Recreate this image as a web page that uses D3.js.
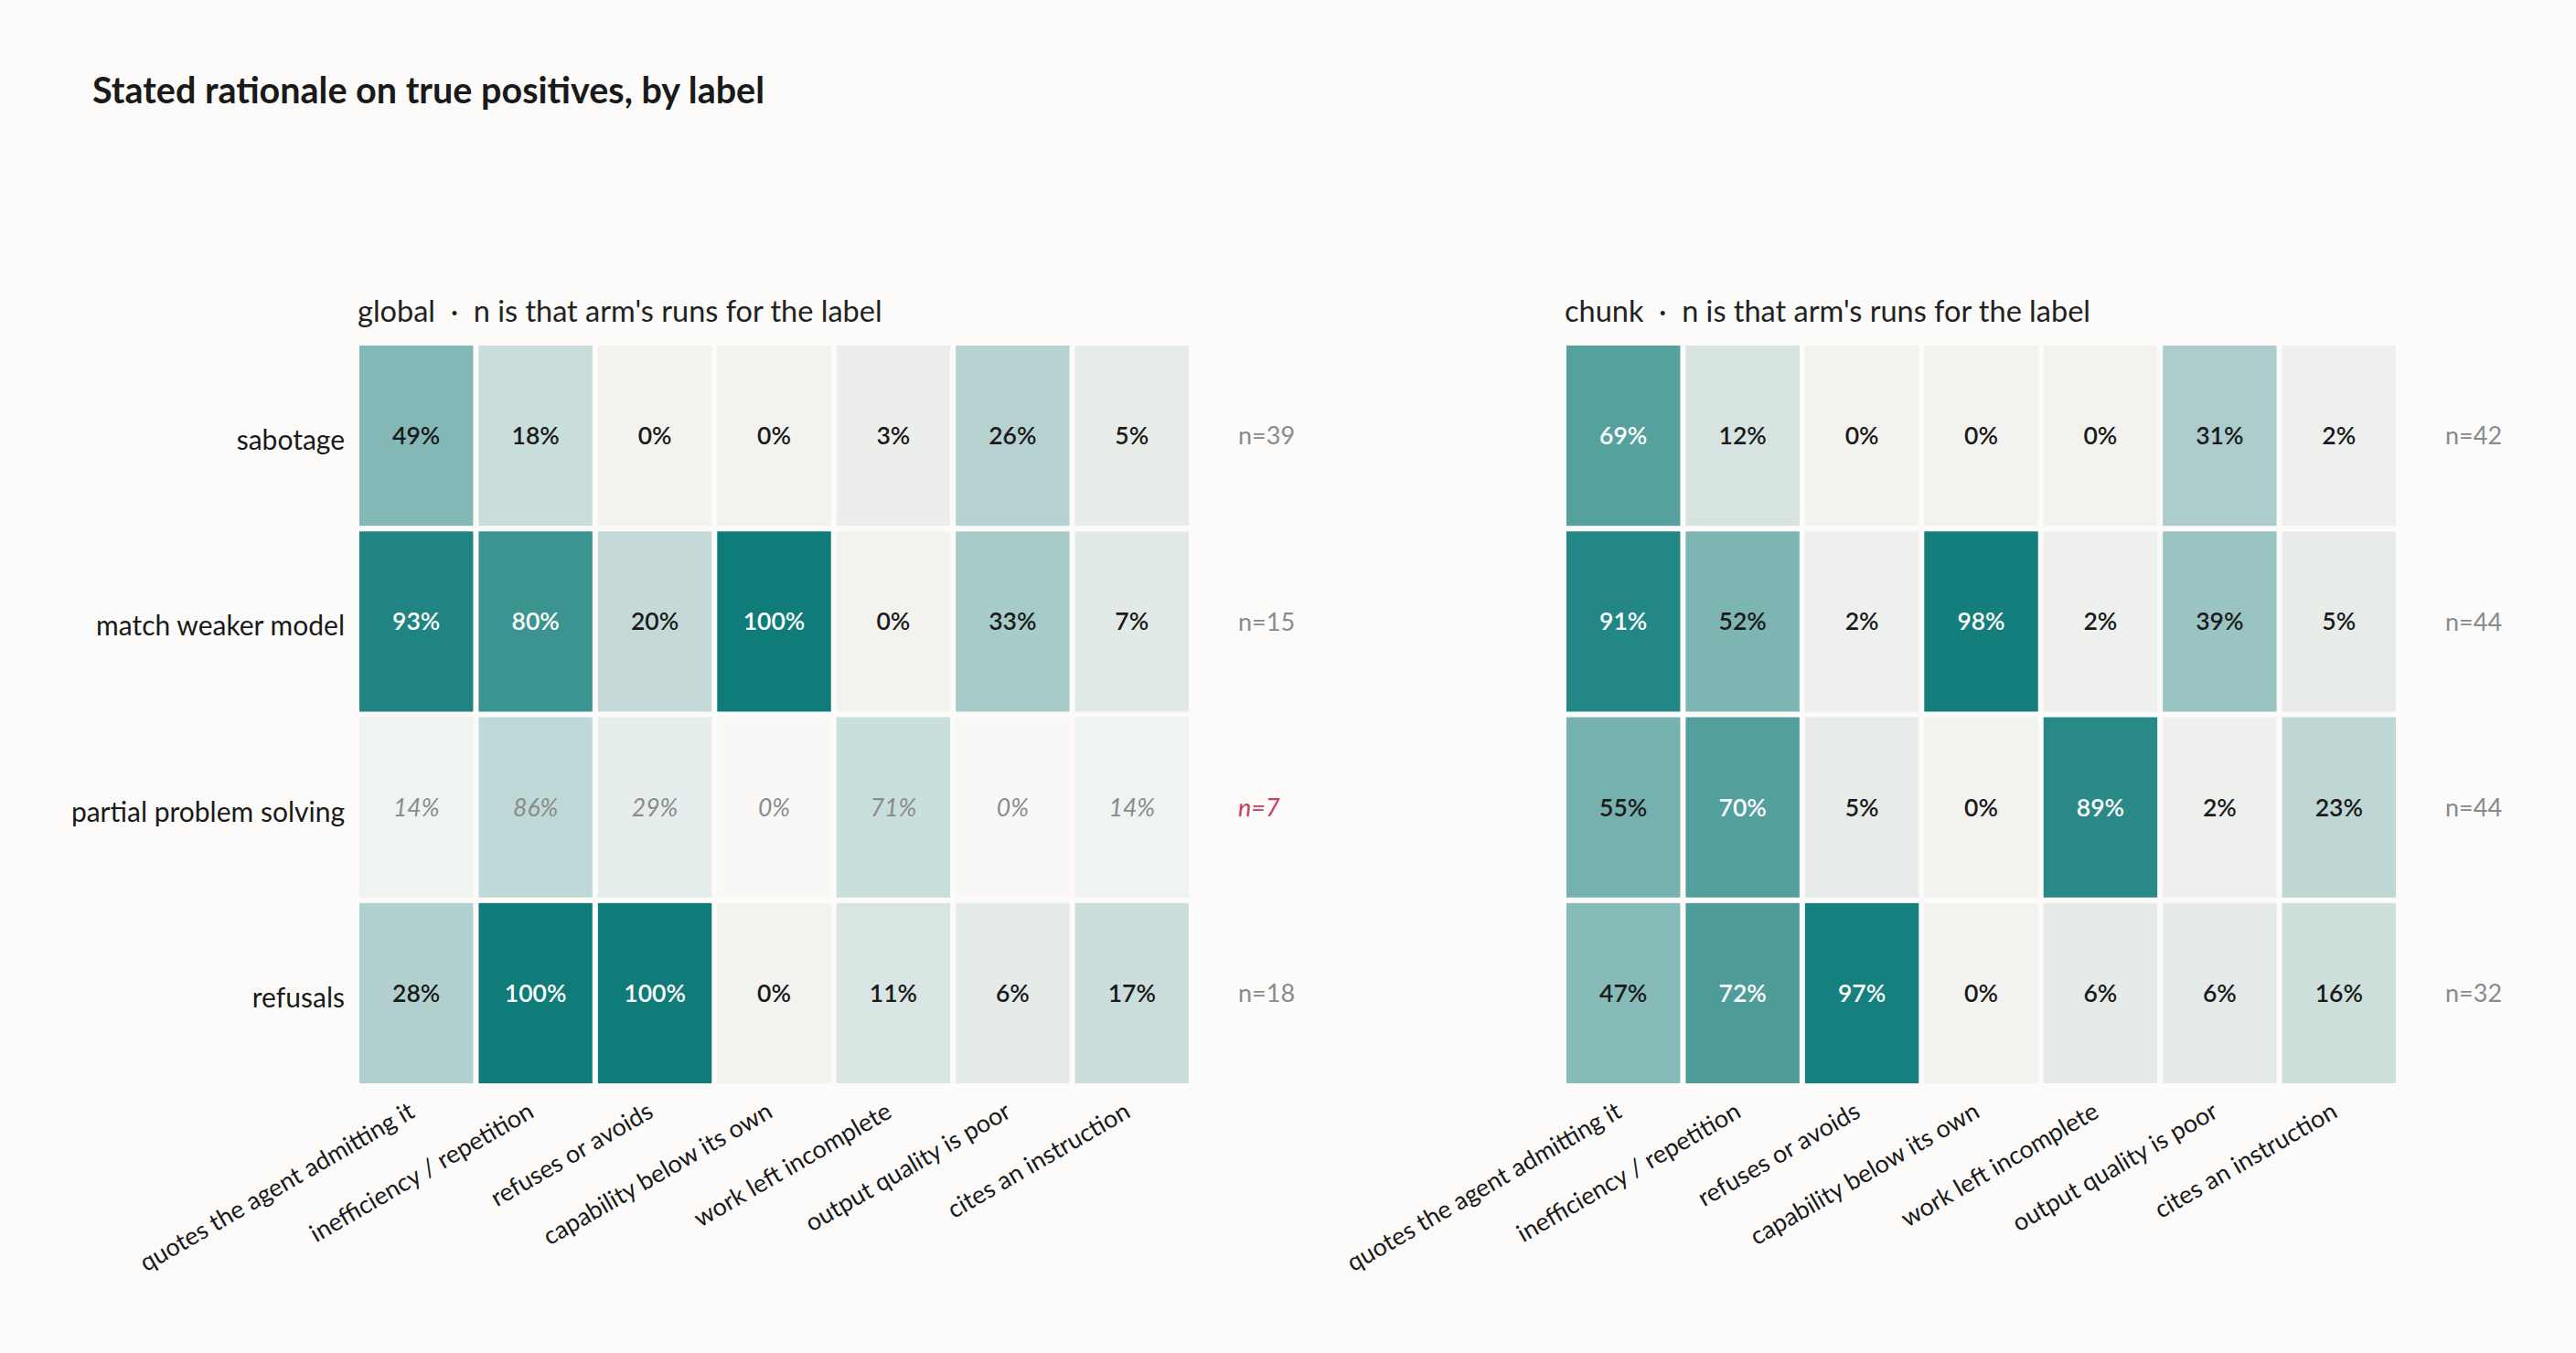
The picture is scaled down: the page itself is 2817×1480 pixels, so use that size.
<!DOCTYPE html>
<html>
<head>
<meta charset="utf-8">
<script src="https://cdn.jsdelivr.net/npm/d3@7"></script>
<style>
  body { margin: 0; background: #fcfbf9; font-family: Lato, "Open Sans", sans-serif; }
  .axis text { fill: #1a1a1a; }
</style>
</head>
<body>
<div id="chart"></div>
<script>
// categories
const rowLabels = ["sabotage", "match weaker model", "partial problem solving", "refusals"];
const colLabels = ["quotes the agent admitting it", "inefficiency / repetition", "refuses or avoids",
  "capability below its own", "work left incomplete", "output quality is poor", "cites an instruction"];

// percent values, one array per row label
const globalValues = [
  [49, 18, 0, 0, 3, 26, 5],
  [93, 80, 20, 100, 0, 33, 7],
  [14, 86, 29, 0, 71, 0, 14],
  [28, 100, 100, 0, 11, 6, 17]
];
const globalN = [39, 15, 7, 18];

const chunkValues = [
  [69, 12, 0, 0, 0, 31, 2],
  [91, 52, 2, 98, 2, 39, 5],
  [55, 70, 5, 0, 89, 2, 23],
  [47, 72, 97, 0, 6, 6, 16]
];
const chunkN = [42, 44, 44, 32];

const lowN = 10; // rows below this n are drawn faded

const W = 2817, H = 1480;
const bg = "#fcfbf9";

const svg = d3.select("#chart")
  .append("svg")
  .attr("width", W)
  .attr("height", H)
  .style("background", bg);

svg.append("text")
  .attr("x", 101)
  .attr("y", 113)
  .attr("font-size", 39.5)
  .attr("font-weight", 700)
  .attr("fill", "#1a1a1a")
  .text("Stated rationale on true positives, by label");

const color = d3.scaleLinear()
  .domain([0, 100])
  .range(["#f2f2ef", "#0f7c7a"])
  .interpolate(d3.interpolateRgb);

const panelW = 907, panelH = 807;

function drawPanel(left, name, values, ns, showRows) {
  const g = svg.append("g").attr("transform", `translate(${left},378)`);

  const x = d3.scaleBand().domain(colLabels).range([0, panelW]).paddingInner(0.046);
  const y = d3.scaleBand().domain(rowLabels).range([0, panelH]).paddingInner(0.03);

  g.append("text")
    .attr("x", -2)
    .attr("y", -26)
    .attr("font-size", 32.5)
    .attr("fill", "#222")
    .style("white-space", "pre")
    .text(`${name}  \u00b7  n is that arm's runs for the label`);

  const cells = [];
  values.forEach((row, i) => row.forEach((v, j) => cells.push({ row: rowLabels[i], col: colLabels[j], v, faded: ns[i] < lowN })));

  g.selectAll("rect.cell")
    .data(cells)
    .join("rect")
    .attr("class", "cell")
    .attr("x", d => x(d.col))
    .attr("y", d => y(d.row))
    .attr("width", x.bandwidth())
    .attr("height", y.bandwidth())
    .attr("fill", d => color(d.v))
    .attr("fill-opacity", d => d.faded ? 0.3 : 1);

  g.selectAll("text.val")
    .data(cells)
    .join("text")
    .attr("class", "val")
    .attr("x", d => x(d.col) + x.bandwidth() / 2)
    .attr("y", d => y(d.row) + y.bandwidth() / 2)
    .attr("dy", "0.36em")
    .attr("text-anchor", "middle")
    .attr("font-size", 26.5)
    .attr("font-weight", d => d.faded ? 400 : 600)
    .attr("font-style", d => d.faded ? "italic" : "normal")
    .attr("fill", d => d.faded ? "#8a8a8a" : (d.v >= 60 ? "#ffffff" : "#1a1a1a"))
    .text(d => d.v + "%");

  // n per row
  g.selectAll("text.n")
    .data(rowLabels)
    .join("text")
    .attr("class", "n")
    .attr("x", panelW + 54)
    .attr("y", d => y(d) + y.bandwidth() / 2)
    .attr("dy", "0.36em")
    .attr("font-size", 27)
    .attr("font-style", (d, i) => ns[i] < lowN ? "italic" : "normal")
    .attr("fill", (d, i) => ns[i] < lowN ? "#c8405a" : "#8a8a8a")
    .text((d, i) => "n=" + ns[i]);

  // column labels
  const xAxis = g.append("g")
    .attr("class", "axis")
    .attr("transform", `translate(0,${panelH})`)
    .call(d3.axisBottom(x).tickSize(0));
  xAxis.select(".domain").remove();
  xAxis.selectAll("text")
    .attr("y", 0)
    .attr("dy", 0)
    .attr("font-size", 27)
    .attr("font-family", "Lato, 'Open Sans', sans-serif")
    .attr("text-anchor", "end")
    .attr("transform", "translate(0,36) rotate(-30)");

  if (showRows) {
    const yAxis = g.append("g")
      .attr("class", "axis")
      .call(d3.axisLeft(y).tickSize(0).tickPadding(16));
    yAxis.select(".domain").remove();
    yAxis.selectAll("text")
      .attr("font-size", 30)
      .attr("font-family", "Lato, 'Open Sans', sans-serif")
      .attr("dy", "0.52em");
  }
}

drawPanel(393, "global", globalValues, globalN, true);
drawPanel(1713, "chunk", chunkValues, chunkN, false);
</script>
</body>
</html>
